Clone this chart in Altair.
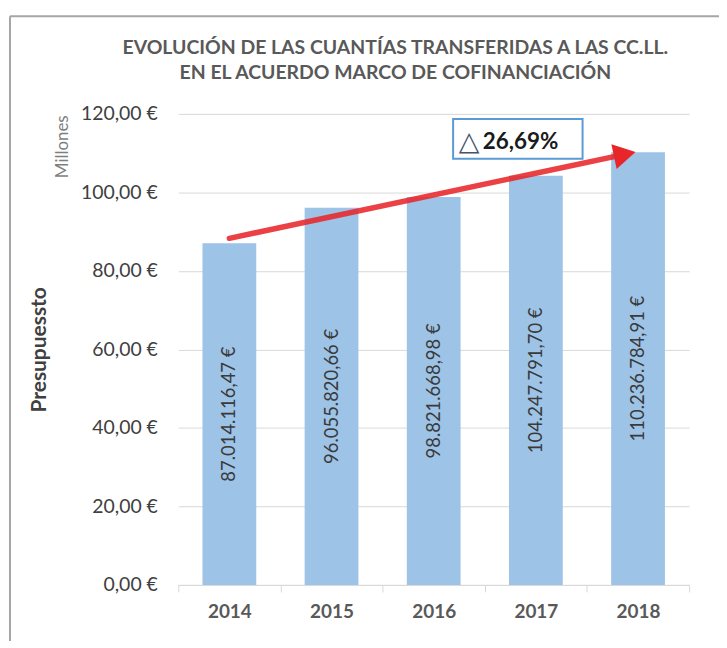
import altair as alt
import pandas as pd

# ---------------- data ----------------
years = ["2014", "2015", "2016", "2017", "2018"]
amounts = [87014116.47, 96055820.66, 98821668.98, 104247791.70, 110236784.91]
y_ticks = [0, 20, 40, 60, 80, 100, 120]
title_lines = ["EVOLUCIÓN DE LAS CUANTÍAS TRANSFERIDAS A LAS CC.LL.",
               "EN EL ACUERDO MARCO DE COFINANCIACIÓN"]
y_title = "Presupuessto"
unit_label = "Millones"
growth_label = "26,69%"
delta_symbol = "△"

# trend arrow (x in category index units, y in millions)
trend_idx = [0.0, 3.87]
trend_val = [88.3, 109.7]
# annotation box
box_idx = [2.19, 3.457]
box_val = [108.6, 118.7]
delta_pos = [2.346, 112.8]
growth_pos = [2.48, 112.8]


def fmt_eur(v):
    s = f"{v:,.2f}"
    return s.replace(",", "X").replace(".", ",").replace("X", ".") + " €"


bars_df = pd.DataFrame({
    "year": years,
    "mill": [a / 1e6 for a in amounts],
    "label": [fmt_eur(a) for a in amounts],
})
bars_df["half"] = bars_df["mill"] / 2

trend_df = pd.DataFrame({"idx": trend_idx, "val": trend_val})
head_df = pd.DataFrame({"idx": [trend_idx[-1]], "val": [trend_val[-1]]})
box_df = pd.DataFrame({"x0": [box_idx[0]], "x1": [box_idx[1]],
                       "y0": [box_val[0]], "y1": [box_val[1]]})
delta_df = pd.DataFrame({"idx": [delta_pos[0]], "val": [delta_pos[1]], "t": [delta_symbol]})
growth_df = pd.DataFrame({"idx": [growth_pos[0]], "val": [growth_pos[1]], "t": [growth_label]})
one_df = pd.DataFrame({"t": [unit_label]})
title_df = pd.DataFrame({"t": title_lines})

FONT = "Lato"
W, H = 513, 473

xq = alt.Scale(domain=[-0.5, 4.5], nice=False)
yscale = alt.Scale(domain=[0, 120])
xband = alt.Scale(paddingInner=0, paddingOuter=0)

yaxis = alt.Axis(values=y_ticks, title=y_title,
                 labelExpr="replace(format(datum.value, '.2f'), '.', ',') + ' €'",
                 labelFont=FONT, labelFontSize=19.5, labelColor="#404040",
                 labelPadding=21, ticks=False, domain=False,
                 gridColor="#d9d9d9", gridWidth=1,
                 titleFont=FONT, titleFontSize=21, titleFontWeight="bold",
                 titleColor="#404040", titleAngle=270, titleX=-139,
                 titleAlign="center", titleBaseline="middle")

bars = alt.Chart(bars_df).mark_bar(size=54, color="#9dc3e6").encode(
    x=alt.X("year:N", sort=years, scale=xband,
            axis=alt.Axis(title=None, labelAngle=0, tickBand="extent",
                          tickSize=7, tickColor="#d9d9d9", domainColor="#d9d9d9",
                          labelFont=FONT, labelFontSize=19, labelFontWeight="bold",
                          labelColor="#595959", labelPadding=11, grid=False)),
    y=alt.Y("mill:Q", scale=yscale, axis=yaxis),
)

labels = alt.Chart(bars_df).mark_text(angle=270, font=FONT, fontSize=18.5,
                                      color="#3a3a3a", align="center",
                                      baseline="middle").encode(
    x=alt.X("year:N", sort=years, scale=xband, axis=None),
    y=alt.Y("half:Q", scale=yscale, axis=yaxis),
    text="label:N",
)

trend = alt.Chart(trend_df).mark_line(color="#e8262a", strokeWidth=5.5,
                                      strokeCap="round", opacity=0.88).encode(
    x=alt.X("idx:Q", scale=xq, axis=None),
    y=alt.Y("val:Q", scale=yscale, axis=yaxis),
)
head = alt.Chart(head_df).mark_point(shape="triangle-right", filled=True, size=650,
                                     angle=348, color="#e8262a", opacity=1).encode(
    x=alt.X("idx:Q", scale=xq, axis=None),
    y=alt.Y("val:Q", scale=yscale, axis=yaxis),
)
box = alt.Chart(box_df).mark_rect(fill="white", stroke="#5b9bd5", strokeWidth=2).encode(
    x=alt.X("x0:Q", scale=xq, axis=None), x2="x1:Q",
    y=alt.Y("y0:Q", scale=yscale, axis=yaxis), y2="y1:Q",
)
delta = alt.Chart(delta_df).mark_text(font="DejaVu Sans", fontSize=27, color="#44546a",
                                      align="center", baseline="middle").encode(
    x=alt.X("idx:Q", scale=xq, axis=None),
    y=alt.Y("val:Q", scale=yscale, axis=yaxis),
    text="t:N",
)
growth = alt.Chart(growth_df).mark_text(font=FONT, fontSize=22.5, fontWeight="bold",
                                        color="#1a1a1a", align="left",
                                        baseline="middle").encode(
    x=alt.X("idx:Q", scale=xq, axis=None),
    y=alt.Y("val:Q", scale=yscale, axis=yaxis),
    text="t:N",
)
unit = alt.Chart(one_df).mark_text(angle=270, font=FONT, fontSize=17, color="#7f7f7f",
                                   align="center", baseline="middle").encode(
    x=alt.value(-116), y=alt.value(33), text="t:N",
)
title1 = alt.Chart(title_df.iloc[[0]]).mark_text(font=FONT, fontSize=19.5, fontWeight="bold",
                                                 color="#595959", align="center",
                                                 baseline="middle").encode(
    x=alt.value(218), y=alt.value(-66), text="t:N")
title2 = alt.Chart(title_df.iloc[[1]]).mark_text(font=FONT, fontSize=19.5, fontWeight="bold",
                                                 color="#595959", align="center",
                                                 baseline="middle").encode(
    x=alt.value(218), y=alt.value(-41), text="t:N")
frame_left = alt.Chart(one_df).mark_rule(color="#a6a6a6", strokeWidth=2).encode(
    x=alt.value(-169), y=alt.value(-98), y2=alt.value(H + 80),
)
frame_top = alt.Chart(one_df).mark_rule(color="#a6a6a6", strokeWidth=2).encode(
    x=alt.value(-169), x2=alt.value(W + 60), y=alt.value(-98),
)

chart = alt.layer(
    frame_left, frame_top, title1, title2, bars, labels, trend, head, box, delta, growth, unit
).resolve_scale(x="independent").properties(
    width=W, height=H,
    autosize=alt.AutoSizeParams(type="none"),
    padding={"left": 171, "top": 105, "right": 30, "bottom": 55},
).configure_view(stroke=None)

chart.save("out.html", embed_options={"renderer": "svg", "actions": False})
